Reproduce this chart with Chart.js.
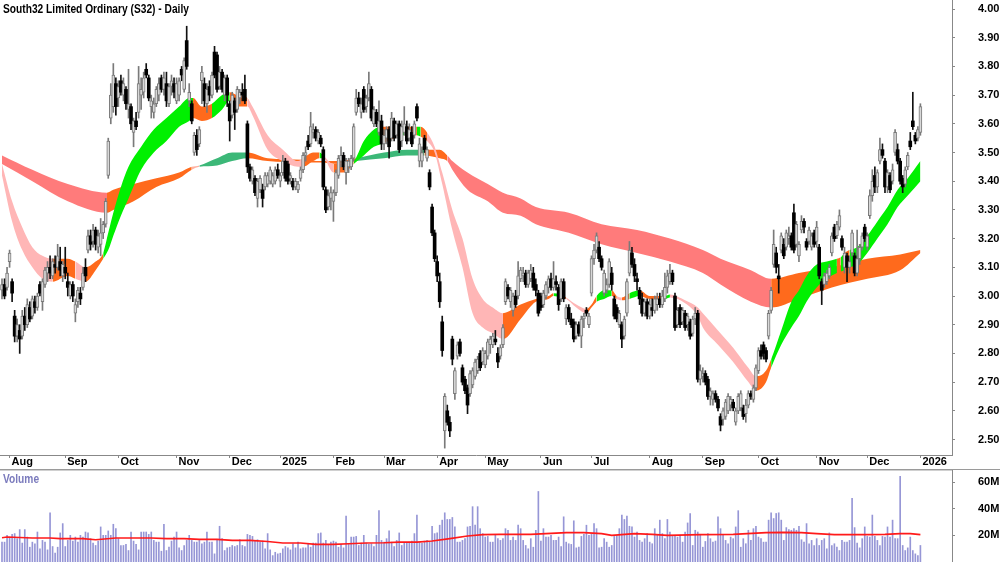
<!DOCTYPE html>
<html>
<head>
<meta charset="utf-8">
<script src="https://cdn.jsdelivr.net/npm/chart.js@4.4.1/dist/chart.umd.min.js"></script>
<style>
html, body { margin: 0; padding: 0; background: #fff; }
#wrap { position: relative; width: 1000px; height: 562px; overflow: hidden; }
#priceChart { position: absolute; left: 0; top: 0; }
#volChart { position: absolute; left: 0; top: 470px; }
</style>
</head>
<body>
<div id="wrap">
  <canvas id="priceChart" width="1000" height="470"></canvas>
  <canvas id="volChart" width="1000" height="92"></canvas>
</div>
<script>
// daily candles, 29 Jul 2024 .. 2 Jan 2026 (trading day index 0..363)
var opens = [
  3.02,3.04,3.03,
  3.12,3.05,2.93,2.86,2.88,2.86,2.93,2.90,2.96,2.93,2.98,2.96,3.04,2.98,3.04,3.08,3.10,3.07,3.11,3.10,3.12,3.07,
  3.10,3.05,3.00,3.04,2.94,2.98,3.01,3.03,3.10,3.16,3.21,3.19,3.23,3.17,3.18,3.22,3.25,3.42,3.62,3.66,3.74,
  3.69,3.75,3.70,3.72,3.65,3.66,3.57,3.61,3.64,3.70,3.71,3.79,3.76,3.66,3.64,3.67,3.70,3.76,3.72,3.74,3.67,3.73,3.74,
  3.68,3.70,3.79,3.72,3.89,3.68,3.67,3.50,3.56,3.53,3.75,3.74,3.67,3.73,3.70,3.85,3.84,3.73,3.78,3.70,3.76,
  3.67,3.63,3.68,3.65,3.69,3.71,3.72,3.60,3.45,3.40,3.41,3.34,3.37,3.37,3.38,3.39,3.40,3.39,3.40,3.44,
  3.40,3.43,3.47,3.46,3.41,3.40,3.38,3.37,3.41,3.44,3.49,3.54,3.53,3.57,3.58,3.54,3.55,3.51,3.37,3.31,3.34,
  3.33,3.36,3.42,3.47,3.49,3.43,3.45,3.45,3.48,3.64,3.69,3.64,3.72,3.66,3.69,3.72,3.60,3.64,3.57,3.61,
  3.53,3.55,3.58,3.55,3.61,3.56,3.60,3.54,3.57,3.59,3.55,3.57,3.56,3.66,3.47,3.47,3.55,3.48,3.43,3.31,3.22,
  3.12,3.05,2.91,2.53,2.60,2.56,2.85,2.66,2.79,2.84,2.75,2.71,2.68,2.66,2.69,2.72,2.74,2.80,2.77,
  2.76,2.79,2.83,2.83,2.85,2.80,2.79,2.83,2.98,3.03,2.98,2.95,3.00,3.00,3.06,3.07,3.08,3.04,3.06,3.08,3.04,3.01,
  3.00,2.97,3.00,3.03,3.06,3.03,3.05,3.03,2.99,3.05,2.92,2.96,2.92,2.91,2.86,2.90,2.86,2.92,2.95,2.90,
  3.01,3.13,3.16,3.17,3.13,3.01,3.02,3.04,3.08,2.99,2.96,2.90,2.90,2.86,2.94,3.08,3.15,3.11,3.06,3.02,2.99,2.94,2.98,
  2.93,2.96,2.95,2.97,2.99,2.97,2.99,3.03,3.05,3.08,3.00,2.90,2.96,2.91,2.94,2.90,2.91,2.87,2.92,2.94,2.71,
  2.72,2.73,2.71,2.65,2.64,2.66,2.64,2.58,2.57,2.58,2.60,2.62,2.63,2.56,2.60,2.61,2.61,2.59,2.62,2.66,2.64,2.68,
  2.74,2.81,2.83,2.81,2.86,2.95,3.11,3.15,3.07,3.16,3.18,3.17,3.20,3.21,3.29,3.18,3.14,3.23,3.26,3.19,3.19,3.17,3.22,
  3.19,3.17,3.05,3.04,3.05,3.07,3.15,3.24,3.21,3.24,3.20,3.10,3.14,3.10,3.15,3.14,3.08,3.13,3.17,3.24,
  3.17,3.28,3.35,3.42,3.38,3.47,3.51,3.47,3.38,3.42,3.40,3.50,3.51,3.47,3.41,3.39,3.45,3.54,3.61,3.56,3.55,
  3.57
];
var highs = [
  3.06,3.06,3.10,
  3.16,3.06,2.95,2.92,2.90,2.95,2.96,2.99,2.98,3.00,3.00,3.01,3.05,3.06,3.10,3.12,3.14,3.13,3.14,3.18,3.17,3.12,
  3.17,3.08,3.05,3.05,2.99,3.03,3.03,3.10,3.13,3.23,3.23,3.25,3.24,3.23,3.27,3.26,3.34,3.55,3.74,3.81,3.76,
  3.75,3.77,3.76,3.73,3.79,3.67,3.62,3.64,3.80,3.76,3.78,3.81,3.77,3.70,3.69,3.73,3.76,3.77,3.78,3.78,3.74,3.77,3.76,
  3.76,3.76,3.80,3.83,3.94,3.74,3.68,3.57,3.58,3.59,3.80,3.76,3.74,3.75,3.78,3.87,3.85,3.80,3.79,3.77,3.77,
  3.68,3.71,3.69,3.73,3.72,3.74,3.77,3.61,3.46,3.45,3.42,3.41,3.42,3.39,3.43,3.43,3.45,3.43,3.45,3.46,
  3.43,3.49,3.48,3.47,3.43,3.41,3.41,3.40,3.45,3.50,3.52,3.56,3.64,3.60,3.59,3.58,3.56,3.52,3.38,3.37,3.38,
  3.37,3.44,3.49,3.52,3.50,3.48,3.48,3.49,3.60,3.72,3.71,3.69,3.73,3.70,3.78,3.73,3.66,3.65,3.68,3.63,
  3.58,3.59,3.59,3.64,3.62,3.61,3.61,3.61,3.66,3.61,3.60,3.59,3.61,3.67,3.55,3.52,3.56,3.52,3.44,3.32,3.23,
  3.14,3.08,2.93,2.66,2.62,2.58,2.86,2.75,2.84,2.85,2.76,2.72,2.69,2.74,2.75,2.78,2.79,2.81,2.82,
  2.81,2.85,2.86,2.87,2.88,2.82,2.83,2.90,3.06,3.04,3.03,3.01,3.02,3.12,3.10,3.10,3.09,3.09,3.11,3.10,3.06,3.02,
  3.01,3.02,3.05,3.07,3.08,3.12,3.07,3.04,3.06,3.06,2.97,2.97,2.94,2.92,2.91,2.91,2.93,2.94,2.96,2.94,
  3.14,3.18,3.22,3.19,3.14,3.09,3.06,3.13,3.10,3.00,2.97,2.95,2.91,2.93,3.06,3.19,3.17,3.13,3.08,3.03,3.01,2.99,2.99,
  2.99,2.99,3.00,3.01,3.01,3.02,3.08,3.09,3.11,3.09,3.01,2.96,2.97,2.96,2.95,2.94,2.92,2.93,2.96,2.95,2.76,
  2.75,2.74,2.72,2.68,2.67,2.67,2.65,2.59,2.61,2.64,2.66,2.65,2.64,2.61,2.66,2.67,2.62,2.64,2.67,2.67,2.69,2.76,
  2.82,2.83,2.84,2.82,2.95,3.03,3.23,3.17,3.11,3.22,3.20,3.23,3.24,3.22,3.32,3.26,3.19,3.28,3.27,3.20,3.24,3.22,3.23,
  3.26,3.18,3.06,3.08,3.09,3.11,3.22,3.25,3.26,3.30,3.21,3.17,3.15,3.14,3.23,3.15,3.23,3.18,3.22,3.25,
  3.22,3.37,3.44,3.45,3.44,3.55,3.53,3.48,3.44,3.43,3.46,3.58,3.53,3.48,3.42,3.45,3.50,3.57,3.71,3.57,3.59,
  3.67
];
var lows = [
  2.99,2.99,3.02,
  3.10,2.98,2.84,2.84,2.80,2.85,2.88,2.89,2.91,2.92,2.94,2.95,3.00,2.95,3.03,3.05,3.06,3.06,3.08,3.09,3.07,3.05,
  3.06,3.00,2.99,2.98,2.91,2.96,2.97,3.02,3.05,3.15,3.16,3.17,3.16,3.15,3.14,3.20,3.24,3.41,3.60,3.64,3.63,
  3.66,3.70,3.68,3.65,3.62,3.58,3.52,3.58,3.62,3.65,3.69,3.76,3.68,3.62,3.62,3.66,3.68,3.71,3.70,3.66,3.66,3.70,3.69,
  3.67,3.68,3.75,3.71,3.79,3.66,3.60,3.49,3.49,3.52,3.67,3.66,3.64,3.68,3.69,3.76,3.71,3.72,3.71,3.68,3.66,
  3.54,3.62,3.58,3.64,3.67,3.68,3.67,3.43,3.40,3.39,3.35,3.31,3.36,3.31,3.37,3.38,3.39,3.38,3.39,3.41,
  3.38,3.42,3.40,3.39,3.39,3.37,3.37,3.36,3.40,3.43,3.47,3.51,3.52,3.55,3.54,3.53,3.52,3.37,3.29,3.30,3.30,
  3.26,3.35,3.41,3.45,3.44,3.39,3.43,3.44,3.47,3.63,3.66,3.62,3.64,3.64,3.68,3.61,3.59,3.59,3.56,3.51,
  3.51,3.53,3.48,3.54,3.54,3.55,3.50,3.52,3.56,3.53,3.54,3.52,3.55,3.61,3.45,3.45,3.50,3.47,3.37,3.21,3.12,
  3.05,2.96,2.79,2.47,2.55,2.51,2.76,2.64,2.78,2.79,2.69,2.66,2.59,2.65,2.68,2.71,2.73,2.74,2.76,
  2.75,2.78,2.80,2.82,2.83,2.75,2.78,2.82,2.97,2.99,2.96,2.93,2.96,2.99,3.05,3.05,3.03,3.03,3.05,3.02,3.00,2.93,
  2.95,2.96,2.99,3.01,3.02,3.02,3.02,2.95,2.98,2.98,2.90,2.91,2.89,2.84,2.85,2.86,2.82,2.89,2.93,2.89,
  3.00,3.11,3.15,3.12,3.09,3.00,3.01,3.03,3.02,2.92,2.91,2.89,2.82,2.85,2.93,3.07,3.10,3.05,3.02,2.97,2.93,2.93,2.92,
  2.92,2.93,2.94,2.95,2.96,2.96,2.98,3.01,3.04,3.04,2.88,2.89,2.89,2.90,2.88,2.88,2.85,2.86,2.90,2.70,2.69,
  2.70,2.69,2.64,2.62,2.62,2.63,2.60,2.53,2.55,2.57,2.59,2.60,2.60,2.55,2.59,2.60,2.57,2.56,2.61,2.64,2.63,2.67,
  2.73,2.78,2.78,2.77,2.85,2.94,3.10,3.08,3.01,3.15,3.13,3.16,3.18,3.16,3.15,3.17,3.12,3.22,3.22,3.16,3.18,3.16,3.17,
  3.17,3.06,2.97,3.03,3.04,3.06,3.14,3.19,3.20,3.23,3.16,3.08,3.05,3.08,3.14,3.07,3.07,3.11,3.16,3.19,
  3.16,3.27,3.33,3.36,3.36,3.46,3.48,3.36,3.36,3.36,3.39,3.49,3.46,3.39,3.36,3.38,3.44,3.51,3.58,3.53,3.54,
  3.56
];
var closes = [
  3.04,3.00,3.08,
  3.15,3.01,2.86,2.90,2.85,2.93,2.90,2.97,2.92,2.99,2.96,3.00,3.01,3.05,3.09,3.10,3.08,3.12,3.10,3.14,3.09,3.11,
  3.08,3.03,3.04,3.00,2.97,3.02,2.99,3.08,3.07,3.21,3.18,3.23,3.18,3.21,3.22,3.25,3.33,3.54,3.70,3.77,3.66,
  3.73,3.71,3.74,3.67,3.67,3.60,3.61,3.59,3.74,3.72,3.76,3.77,3.69,3.68,3.67,3.72,3.74,3.72,3.76,3.68,3.73,3.75,3.71,
  3.74,3.75,3.77,3.82,3.80,3.71,3.61,3.56,3.51,3.58,3.78,3.68,3.72,3.70,3.77,3.77,3.72,3.78,3.72,3.76,3.70,
  3.61,3.70,3.64,3.72,3.71,3.70,3.68,3.45,3.41,3.44,3.36,3.40,3.41,3.34,3.42,3.42,3.44,3.42,3.44,3.42,
  3.42,3.47,3.41,3.40,3.42,3.38,3.40,3.39,3.44,3.49,3.50,3.52,3.59,3.58,3.55,3.57,3.53,3.38,3.30,3.35,3.36,
  3.36,3.43,3.48,3.49,3.45,3.47,3.47,3.48,3.59,3.69,3.67,3.67,3.65,3.69,3.74,3.62,3.65,3.60,3.61,3.53,
  3.56,3.58,3.52,3.62,3.55,3.60,3.51,3.59,3.60,3.54,3.58,3.53,3.60,3.62,3.53,3.50,3.51,3.51,3.38,3.22,3.13,
  3.07,2.98,2.81,2.65,2.56,2.53,2.78,2.74,2.83,2.80,2.70,2.67,2.62,2.73,2.74,2.77,2.78,2.75,2.81,
  2.80,2.84,2.85,2.86,2.84,2.77,2.82,2.89,3.05,3.00,3.02,3.00,2.97,3.07,3.09,3.08,3.04,3.08,3.09,3.03,3.02,2.94,
  2.96,3.01,3.04,3.06,3.03,3.06,3.04,2.97,3.05,2.99,2.96,2.92,2.90,2.85,2.90,2.87,2.92,2.93,2.94,2.93,
  3.13,3.16,3.21,3.13,3.10,3.08,3.04,3.12,3.04,2.93,2.92,2.94,2.85,2.92,3.05,3.16,3.11,3.07,3.05,2.99,2.94,2.98,2.93,
  2.97,2.95,2.99,2.99,2.97,3.00,3.03,3.07,3.08,3.05,2.89,2.95,2.90,2.95,2.89,2.93,2.86,2.92,2.94,2.71,2.74,
  2.73,2.70,2.65,2.67,2.66,2.64,2.61,2.55,2.60,2.63,2.65,2.64,2.61,2.60,2.65,2.66,2.58,2.62,2.66,2.65,2.68,2.75,
  2.81,2.79,2.80,2.78,2.94,3.02,3.18,3.10,3.06,3.21,3.14,3.22,3.21,3.17,3.16,3.25,3.18,3.26,3.24,3.17,3.23,3.21,3.18,
  3.24,3.07,3.02,3.07,3.08,3.10,3.21,3.20,3.25,3.28,3.17,3.15,3.10,3.12,3.22,3.08,3.13,3.17,3.21,3.20,
  3.21,3.35,3.40,3.38,3.43,3.51,3.49,3.38,3.43,3.37,3.44,3.57,3.47,3.40,3.38,3.44,3.49,3.52,3.59,3.54,3.58,
  3.66
];
// volume, millions of shares
var volumes = [
  14.9,14.9,20,18.7,20.7,21.3,17.5,24.3,14.2,24.3,18.7,11.1,14.9,13.7,22.5,9.9,16.2,14.9,9.1,36.9,
  11.6,6.6,11.1,21.8,28.8,11.6,16.2,20,15.7,18.7,14.9,20,18.7,22.5,21.8,17.5,14.2,12.4,15.7,26.3,
  20,20,23.3,20,28.3,25,17.5,12.4,12.4,13.2,8.6,22.5,15.7,13.2,9.1,22.5,22.5,22.5,20.7,22.5,
  16.2,14.9,14.9,8.1,28.3,8.6,11.1,15.7,18.7,22.5,10.6,8.6,12.4,16.2,20,16.2,14.9,14.9,16.2,13.7,
  14.9,22.5,14.9,14.9,6.1,16.2,26.8,17.5,8.6,10.6,11.1,12.4,11.6,12.4,16.7,12.4,11.6,20.7,20,19.2,
  16.2,16.7,14.9,15.7,9.9,21.3,9.1,4.8,7.3,6.1,6.6,9.9,11.6,10.6,9.1,13.7,10.6,
  14.9,9.9,10.6,10.6,13.2,11.1,14.2,14.2,21.3,21.8,14.2,16.2,13.2,14.9,15.7,14.9,11.1,13.2,10.6,34.4,
  13.2,18.7,18.7,19.2,12.4,14.2,20,14.2,13.2,13.7,11.6,20,38.5,16.2,14.9,17.5,23.3,14.9,11.6,16.2,
  21.8,12.4,14.2,14.2,14.9,15.7,21.3,35.2,14.9,14.2,15.7,16.2,14.9,26.8,21.3,21.8,27.6,31.4,36.9,31.9,
  31.9,33.4,26.3,14.9,14.9,16.2,17.5,26.3,26.8,41.5,27.6,41.5,25,21.3,18.7,19.2,14.9,14.9,20,17.5,
  16.2,17.5,25,23.8,16.2,18.7,16.2,27.6,25,16.2,12.4,9.9,17.5,11.1,23.8,52.9,15.7,25,18.7,18.7,
  20,16.2,16.2,18.7,11.6,33.9,14.9,13.7,13.2,30.9,10.6,11.1,19.2,20.7,27.6,20,20.7,28.8,25,10.6,
  11.1,17.5,14.9,11.1,12.4,19.2,20,25,35.2,31.9,34.4,26.8,26.3,18.7,22.5,16.2,14.9,17.5,21.3,14.9,
  13.7,25,20.7,31.4,21.3,17.5,31.9,22.5,19.2,20,18.7,20,14.9,22.5,29.3,36.4,12.4,23.8,22.5,
  20,11.1,15.4,21.3,17.5,14.9,15.7,33.9,25,20.7,16.2,13.7,18.7,17.5,26.3,38.5,11.1,17.5,13.7,23.8,
  16.2,25,26.8,18.7,17.5,14.9,14.9,31.4,36.9,32.6,36.4,36.9,31.4,16.2,25.8,24.3,23.8,25,23.8,26.8,
  16.7,14.9,28.8,13.7,16.2,12.4,17.5,12.4,16.2,17.5,9.9,21.8,12.4,13.7,11.1,8.6,16.2,14.9,
  14.9,16.2,47.8,25.8,14.2,10.6,17.5,26.3,19.2,18.7,35.2,19.2,16.2,12.4,19.2,18.7,26.3,18.7,31.4,17.5,
  17.5,64.3,12.4,8.6,10.6,18.7,8.6,6.1,4.8,12.4
];
// volume moving average read at sparse points (index, millions)
var volAvgIdx = [0,2,12,19,23,32,37,45,52,59,65,72,78,85,91,98,105,111,118,124,131,137,144,151,157,164,170,177,184,190,197,209,223,230,237,241,250,257,263,276,289,302,309,316,322,329,336,342,349,355,359,363];
var volAvgVal = [18.2,18.7,18,18,17.5,17.5,16.7,18,18,18,17.5,17.5,17,17,16.2,16.2,15.4,14.2,14.2,13.2,13.2,13.7,14.2,14.4,14.9,14.9,15.7,17.5,19.5,20.5,20.7,20.7,22,22,21.3,20,21.3,20.7,20,20.5,20.7,22,22.2,22,21.3,20.5,20.5,20.5,20.7,21.3,21.3,20.5];

// long-term ribbon: index, upper, lower, state of the span that starts there
var longIdx = [0,12,26,41.5,44,52,61,70,75,78,85,91,97,105,119,126,133,140,151,160,167,173,176,178,184,192,198,205,211,224,237,251,264,277,284,296,304,315,328,342,355,363];
var longTop = [3.49,3.44,3.39,3.36,3.37,3.39,3.41,3.43,3.45,3.455,3.48,3.50,3.50,3.48,3.475,3.47,3.47,3.48,3.50,3.51,3.51,3.51,3.49,3.47,3.43,3.39,3.36,3.34,3.31,3.29,3.25,3.23,3.20,3.16,3.13,3.09,3.06,3.08,3.10,3.13,3.145,3.16];
var longBot = [3.46,3.40,3.33,3.29,3.30,3.33,3.38,3.41,3.44,3.45,3.455,3.47,3.48,3.47,3.465,3.465,3.46,3.47,3.48,3.49,3.49,3.48,3.47,3.44,3.37,3.33,3.29,3.28,3.25,3.22,3.18,3.15,3.12,3.08,3.04,2.98,2.96,2.99,3.03,3.06,3.09,3.15];
var longState = ['bear','bear','bear','turn','turn','turn','turn','turn','fade','bull','bull','bull','turn','turn','turn','turn','turn','bull','bull','bull','turn','turn','bear','bear','bear','bear','bear','bear','bear','bear','bear','bear','bear','bear','bear','bear','turn','turn','turn','turn','turn','turn'];

// short-term ribbon
var shortIdx = [0,4,8,12,16,20,26,29,33,37,40,42,44,47,50,55,60,65,70,74,75.5,79,83,87,90,93,97,99,105,111,117,119,123,125.5,127,131,135,139,143,147,150,155,157,159,164,165.5,168,171,174,178,182,186,190,194,198,205,211,216,218,221,223,227,231,233,235,238,241,243,245,248,252,256,262,264,270,275,277,283,289,295,298,302,304,308,312,315,318,322,326,330,331.5,333,335,338,342,346,350,354,358,363];
var shortTop = [3.46,3.33,3.24,3.17,3.14,3.13,3.13,3.12,3.10,3.12,3.15,3.22,3.29,3.38,3.45,3.52,3.58,3.62,3.66,3.69,3.69,3.66,3.67,3.70,3.71,3.70,3.69,3.66,3.56,3.51,3.47,3.48,3.50,3.50,3.49,3.46,3.46,3.47,3.54,3.58,3.59,3.59,3.59,3.59,3.59,3.59,3.57,3.52,3.43,3.30,3.20,3.06,2.99,2.96,2.94,2.97,2.99,3.00,3.01,3.005,2.995,2.97,2.955,2.97,3.00,3.02,3.02,3.00,2.995,3.01,3.02,3.00,3.00,3.005,2.985,2.96,2.94,2.88,2.82,2.75,2.72,2.74,2.78,2.88,2.98,3.02,3.07,3.11,3.12,3.13,3.135,3.15,3.16,3.17,3.21,3.26,3.31,3.37,3.41,3.47];
var shortBot = [3.42,3.26,3.16,3.10,3.06,3.05,3.07,3.06,3.05,3.09,3.13,3.16,3.21,3.28,3.34,3.44,3.50,3.54,3.59,3.61,3.62,3.61,3.62,3.65,3.68,3.66,3.66,3.63,3.51,3.47,3.45,3.45,3.47,3.48,3.48,3.43,3.43,3.46,3.49,3.52,3.53,3.55,3.56,3.56,3.56,3.555,3.54,3.50,3.39,3.23,3.10,2.94,2.89,2.87,2.85,2.92,2.98,2.99,3.00,2.995,2.99,2.96,2.94,2.96,2.98,2.99,3.00,2.99,2.985,2.99,3.00,2.99,2.99,2.995,2.975,2.93,2.89,2.83,2.77,2.70,2.67,2.70,2.75,2.83,2.89,2.93,2.98,3.03,3.06,3.08,3.085,3.09,3.10,3.11,3.15,3.20,3.25,3.31,3.35,3.40];
var shortState = ['fall','fall','fall','fall','fall','turn','turn','fall','turn','turn','rise','rise','rise','rise','rise','rise','rise','rise','rise','rise','turn','turn','rise','rise','turn','turn','fall','fall','fall','fall','fall','turn','turn','rise','fall','turn','turn','rise','rise','rise','turn','turn','rise','turn','rise','turn','fall','fall','fall','fall','fall','fall','fall','fall','turn','turn','turn','turn','rise','turn','fall','fall','turn','turn','rise','rise','turn','fall','turn','rise','turn','turn','rise','fall','fall','fall','fall','fall','fall','fall','turn','turn','rise','rise','rise','rise','rise','rise','rise','turn','rise','turn','rise','rise','rise','rise','rise','rise','rise','rise'];

var monthIdx = [3,25,46,69,90,110,131,151,172,191,213,233,256,277,299,322,342,363];
var monthLbl = ['Aug','Sep','Oct','Nov','Dec','2025','Feb','Mar','Apr','May','Jun','Jul','Aug','Sep','Oct','Nov','Dec','2026'];
var priceTicks = [2.5,2.6,2.7,2.8,2.9,3.0,3.1,3.2,3.3,3.4,3.5,3.6,3.7,3.8,3.9,4.0];
var volTicks = [20,40,60];

var FONT = '"Liberation Sans", Arial, sans-serif';
var TITLE = 'South32 Limited Ordinary (S32) - Daily';
Chart.defaults.font.family = FONT;

var longFill = { bear: '#ff7b7b', turn: '#ff6a1c', fade: '#ffb0a0', bull: '#3cb878' };
var shortFill = { fall: '#ffb6b6', turn: '#ff6a1c', rise: '#00f000' };

var X_MIN = -0.79, X_MAX = 375.49;

function band(idx, top, bot, state, fills, order) {
  function pts(arr) { return idx.map(function (v, k) { return { x: v, y: arr[k] }; }); }
  return [{
    type: 'line', data: pts(top), order: order, fill: '+1',
    borderColor: 'rgba(0,0,0,0)', borderWidth: 1, pointRadius: 0,
    cubicInterpolationMode: 'monotone',
    backgroundColor: fills[state[0]],
    segment: { backgroundColor: function (c) { return fills[state[c.p0DataIndex]]; } }
  }, {
    type: 'line', data: pts(bot), order: order, fill: false,
    borderColor: 'rgba(0,0,0,0)', borderWidth: 1, pointRadius: 0,
    cubicInterpolationMode: 'monotone'
  }];
}

// Chart.js pads the chart area for the first/last tick label; this chart runs edge to edge
function noPad(s) { s.paddingTop = 0; s.paddingBottom = 0; s.paddingLeft = 0; s.paddingRight = 0; }

var isUp = closes.map(function (c, i) { return c >= opens[i]; });
var wickData = closes.map(function (c, i) { return { x: i, y: [lows[i], highs[i]] }; });
var bodyData = closes.map(function (c, i) { return { x: i, y: [opens[i], closes[i]] }; });

// narrow bold caption, like the source chart's condensed face
function caption(ctx, text, x, y, color) {
  ctx.save();
  ctx.font = 'bold 12px ' + FONT;
  ctx.fillStyle = color;
  ctx.textBaseline = 'alphabetic';
  ctx.scale(0.85, 1);
  ctx.fillText(text, x / 0.85, y);
  ctx.restore();
}

var priceDeco = {
  id: 'priceDeco',
  afterDraw: function (chart) {
    var ctx = chart.ctx;
    caption(ctx, TITLE, 3, 13, '#000');
    ctx.save();
    ctx.strokeStyle = '#9a9a9a';
    ctx.lineWidth = 1;
    ctx.beginPath();
    ctx.moveTo(0, 469.5); ctx.lineTo(1000, 469.5);
    ctx.stroke();
    ctx.restore();
  }
};

new Chart(document.getElementById('priceChart'), {
  type: 'bar',
  data: {
    datasets: band(longIdx, longTop, longBot, longState, longFill, 4)
      .concat(band(shortIdx, shortTop, shortBot, shortState, shortFill, 3))
      .concat([{
        type: 'bar', data: wickData, order: 1, grouped: false,
        barThickness: 1, borderWidth: 0,
        backgroundColor: isUp.map(function (u) { return u ? '#7a7a7a' : '#111'; })
      }, {
        type: 'bar', data: bodyData, order: 0, grouped: false,
        barThickness: 3, minBarLength: 1, borderSkipped: false,
        borderWidth: isUp.map(function (u) { return u ? 1 : 0; }),
        borderColor: '#7a7a7a',
        backgroundColor: isUp.map(function (u) { return u ? '#d8d8d8' : '#000'; })
      }])
  },
  options: {
    responsive: false,
    animation: false,
    devicePixelRatio: 1,
    layout: { padding: 0 },
    plugins: { legend: { display: false }, tooltip: { enabled: false }, title: { display: false } },
    scales: {
      x: {
        type: 'linear', min: X_MIN, max: X_MAX, offset: false, position: 'bottom',
        afterBuildTicks: function (s) { s.ticks = monthIdx.map(function (v) { return { value: v }; }); },
        afterFit: function (s) { s.height = 15; noPad(s); },
        ticks: {
          autoSkip: false, maxRotation: 0, minRotation: 0, align: 'start', labelOffset: 2, padding: -3,
          color: '#000', font: { size: 11, weight: 'bold' },
          callback: function (v) { var k = monthIdx.indexOf(v); return k >= 0 ? monthLbl[k] : ''; }
        },
        grid: { drawOnChartArea: false, drawTicks: true, tickLength: 3, color: '#888', offset: false },
        border: { color: '#888', width: 1 }
      },
      y: {
        type: 'linear', position: 'right', min: 2.446, max: 4.0314,
        afterBuildTicks: function (s) { s.ticks = priceTicks.map(function (v) { return { value: v }; }); },
        afterFit: function (s) { s.width = 48; noPad(s); },
        ticks: {
          padding: 23, color: '#000', font: { size: 11, weight: 'bold' },
          callback: function (v) { return Number(v).toFixed(2); }
        },
        grid: { drawOnChartArea: false, drawTicks: true, tickLength: 3, color: '#888' },
        border: { color: '#888', width: 1 }
      }
    }
  },
  plugins: [priceDeco]
});

var volDeco = {
  id: 'volDeco',
  afterDraw: function (chart) {
    var ctx = chart.ctx;
    ctx.save();
    ctx.strokeStyle = '#d0d0d0';
    ctx.lineWidth = 1;
    ctx.beginPath(); ctx.moveTo(0, 0.5); ctx.lineTo(952, 0.5); ctx.stroke();
    ctx.restore();
    caption(ctx, 'Volume', 3, 13, '#7b7bbd');
  }
};

new Chart(document.getElementById('volChart'), {
  type: 'bar',
  data: {
    datasets: [{
      type: 'line', order: 0,
      data: volAvgIdx.map(function (v, k) { return { x: v, y: volAvgVal[k] }; }),
      borderColor: '#ff1a1a', borderWidth: 1.6, pointRadius: 0, tension: 0, fill: false
    }, {
      type: 'bar', order: 1, grouped: false,
      data: volumes.map(function (v, i) { return { x: i, y: v }; }),
      barThickness: 1, borderWidth: 0, backgroundColor: '#9696d6'
    }]
  },
  options: {
    responsive: false,
    animation: false,
    devicePixelRatio: 1,
    layout: { padding: 0 },
    plugins: { legend: { display: false }, tooltip: { enabled: false } },
    scales: {
      x: { type: 'linear', min: X_MIN, max: X_MAX, offset: false, display: false, grid: { offset: false } },
      y: {
        type: 'linear', position: 'right', min: 0, max: 69,
        afterBuildTicks: function (s) { s.ticks = volTicks.map(function (v) { return { value: v }; }); },
        afterFit: function (s) { s.width = 48; noPad(s); },
        ticks: {
          padding: 23, color: '#000', font: { size: 11, weight: 'bold' },
          callback: function (v) { return v + 'M'; }
        },
        grid: { drawOnChartArea: false, drawTicks: true, tickLength: 3, color: '#888' },
        border: { color: '#888', width: 1 }
      }
    }
  },
  plugins: [volDeco]
});
</script>
</body>
</html>
